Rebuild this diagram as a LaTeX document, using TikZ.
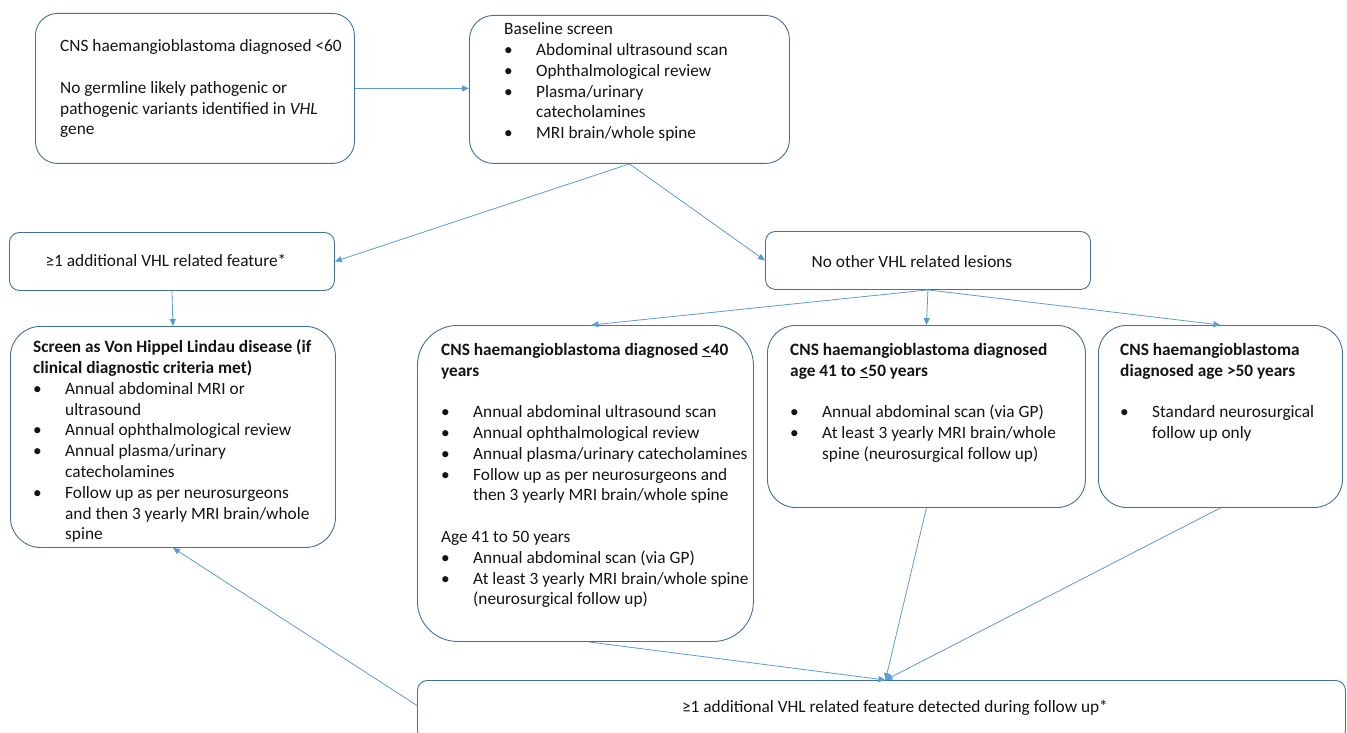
\documentclass[tikz,border=0pt]{standalone}
\usepackage{fontspec}
\setmainfont{Carlito}
\usetikzlibrary{arrows.meta}
\definecolor{boxc}{RGB}{65,113,156}
\definecolor{arrc}{RGB}{91,155,213}
\definecolor{txtc}{RGB}{20,20,20}
\newcommand\fsz{\fontsize{17.3}{20.8}\selectfont}
\newcommand\bl{\makebox[32pt][l]{\textbullet}}
\newcommand\ind{\hspace*{32pt}}
\tikzset{
  box/.style={draw=boxc, line width=0.9pt, anchor=north west, inner sep=0pt, fill=white},
  txt/.style={anchor=north west, inner sep=0pt, align=left, font=\fsz, text=txtc},
  ctxt/.style={anchor=base, inner sep=0pt, font=\fsz, text=txtc},
  arr/.style={draw=arrc, line width=0.8pt, -{Triangle[length=7pt,width=6pt]}}
}
\begin{document}
\begin{tikzpicture}[x=1pt,y=-1pt]
\useasboundingbox (0,0) rectangle (1347,733);
% boxes
\node[box, rounded corners=22pt, minimum width=319pt, minimum height=150pt] (A) at (35,13) {};
\node[box, rounded corners=24pt, minimum width=320pt, minimum height=148pt] (B) at (469,15) {};
\node[box, rounded corners=10pt, minimum width=325pt, minimum height=58pt] (C) at (9,232) {};
\node[box, rounded corners=10pt, minimum width=325pt, minimum height=58pt] (D) at (765,231) {};
\node[box, rounded corners=30pt, minimum width=325pt, minimum height=221pt] (E) at (10,326) {};
\node[box, rounded corners=40pt, minimum width=336pt, minimum height=316pt] (F) at (417,325) {};
\node[box, rounded corners=28pt, minimum width=318pt, minimum height=182pt] (G) at (767,325) {};
\node[box, rounded corners=28pt, minimum width=244pt, minimum height=182pt] (H) at (1098,325) {};
\node[box, rounded corners=10pt, minimum width=928pt, minimum height=60pt] (I) at (417,680) {};
% texts
\node[txt] (At) at (60,37) {\strut CNS haemangioblastoma diagnosed <60\\[20.8pt]
No germline likely pathogenic or\\
pathogenic variants identified in \textit{VHL}\\
gene};
\node[txt] (Bt) at (504,20) {\strut Baseline screen\\
\bl Abdominal ultrasound scan\\
\bl Ophthalmological review\\
\bl Plasma/urinary\\
\ind catecholamines\\
\bl MRI brain/whole spine};
\node[ctxt] (Ct) at (166,266) {≥1 additional VHL related feature*};
\node[ctxt] (Dt) at (912,267) {No other VHL related lesions};
\node[txt] (Et) at (33,338) {\strut\textbf{Screen as Von Hippel Lindau disease (if}\\
\textbf{clinical diagnostic criteria met)}\\
\bl Annual abdominal MRI or\\
\ind ultrasound\\
\bl Annual ophthalmological review\\
\bl Annual plasma/urinary\\
\ind catecholamines\\
\bl Follow up as per neurosurgeons\\
\ind and then 3 yearly MRI brain/whole\\
\ind spine};
\node[txt] (Ft) at (441,340.5) {\strut\textbf{CNS haemangioblastoma diagnosed \underline{<}40}\\
\textbf{years}\\[20.8pt]
\bl Annual abdominal ultrasound scan\\
\bl Annual ophthalmological review\\
\bl Annual plasma/urinary catecholamines\\
\bl Follow up as per neurosurgeons and\\
\ind then 3 yearly MRI brain/whole spine\\[20.8pt]
Age 41 to 50 years\\
\bl Annual abdominal scan (via GP)\\
\bl At least 3 yearly MRI brain/whole spine\\
\ind (neurosurgical follow up)};
\node[txt] (Gt) at (790,340.5) {\strut\textbf{CNS haemangioblastoma diagnosed}\\
\textbf{age 41 to \underline{<}50 years}\\[20.8pt]
\bl Annual abdominal scan (via GP)\\
\bl At least 3 yearly MRI brain/whole\\
\ind spine (neurosurgical follow up)};
\node[txt] (Ht) at (1120,340.5) {\strut\textbf{CNS haemangioblastoma}\\
\textbf{diagnosed age >50 years}\\[20.8pt]
\bl Standard neurosurgical\\
\ind follow up only};
\node[ctxt] (It) at (895,712) {≥1 additional VHL related feature detected during follow up*};
% connectors
\draw[arr] (A.east) -- (B.west |- A.east);
\draw[arr] (B.south) -- (C.east);
\draw[arr] (B.south) -- (D.west);
\draw[arr] (C.south) -- (E.north);
\draw[arr] (D.south) -- ([xshift=6pt]F.north);
\draw[arr] (D.south) -- (G.north);
\draw[arr] (D.south) -- (H.north);
\coordinate (Iin) at ([xshift=4pt]I.north);
\draw[arr] ([xshift=3pt]F.south) -- (Iin);
\draw[arr] (G.south) -- (Iin);
\draw[arr] (H.south) -- (Iin);
\draw[arr] ([yshift=5pt]I.west) -- (E.south);
\end{tikzpicture}
\end{document}
